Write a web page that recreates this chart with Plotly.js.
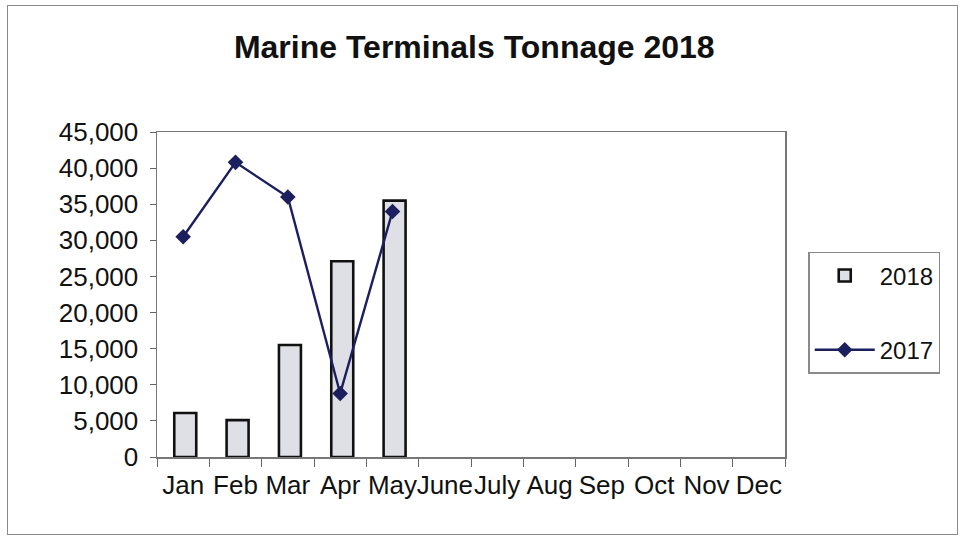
<!DOCTYPE html>
<html>
<head>
<meta charset="utf-8">
<script src="https://cdn.plot.ly/plotly-3.0.1.min.js"></script>
<style>
html,body{margin:0;padding:0;background:#fff;}
#wrap{position:relative;width:964px;height:539px;}
#chart{width:964px;height:539px;}
#frame{position:absolute;left:7px;top:5px;width:949px;height:528px;border:1.5px solid #8a8a8a;pointer-events:none;}
</style>
</head>
<body>
<div id="wrap"><div id="chart"></div><div id="frame"></div></div>
<script>
const months = ["Jan","Feb","Mar","Apr","May","June","July","Aug","Sep","Oct","Nov","Dec"];
const tonnage2018 = [6100, 5100, 15500, 27100, 35500, null, null, null, null, null, null, null];
const tonnage2017 = [30500, 40800, 36000, 8800, 34000, null, null, null, null, null, null, null];
const yTicks = [0,5000,10000,15000,20000,25000,30000,35000,40000,45000];

const traces = [
  {
    type: 'bar', name: '2018', x: months, y: tonnage2018,
    width: 0.42, offset: -0.17,
    marker: {color: '#dfe0e6', line: {color: '#111', width: 2.6}},
    legendgroup: 'a'
  },
  {
    type: 'scatter', mode: 'lines+markers', name: '2017', x: months, y: tonnage2017,
    line: {color: '#1b1f5e', width: 2.4},
    marker: {symbol: 'diamond', size: 12, color: '#1b1f5e'},
    legendgroup: 'b'
  }
];

const layout = {
  width: 964, height: 539,
  margin: {l: 157, r: 179, t: 132, b: 82},
  paper_bgcolor: '#fff', plot_bgcolor: '#fff',
  font: {family: 'Liberation Sans, Arial, sans-serif', size: 24, color: '#111'},
  title: {text: '<b>Marine Terminals Tonnage 2018</b>', x: 0.492, xanchor: 'center', y: 0.913, yanchor: 'middle',
          font: {family: 'Liberation Sans, Arial, sans-serif', size: 32, color: '#111'}},
  showlegend: true,
  legend: {x: 1.037, xanchor: 'left', y: 0.631, yanchor: 'top',
           bordercolor: '#8a8a8a', borderwidth: 1.5, bgcolor: '#fff',
           font: {size: 24}, traceorder: 'grouped', tracegroupgap: 40, itemwidth: 60},
  xaxis: {
    type: 'category', categoryorder: 'array', categoryarray: months,
    range: [-0.5, 11.5], tickangle: 0,
    tickson: 'boundaries', ticks: 'outside', ticklen: 8, tickcolor: '#666',
    showline: true, linecolor: '#777', linewidth: 1.5, mirror: true,
    showgrid: false, tickfont: {size: 26}, ticklabelstandoff: 4
  },
  yaxis: {
    range: [0, 45000], tickvals: yTicks, tickformat: ',',
    ticks: 'outside', ticklen: 6, tickcolor: '#666',
    showline: true, linecolor: '#777', linewidth: 1.5, mirror: true,
    showgrid: false, zeroline: false, tickfont: {size: 26}, ticklabelstandoff: 6
  },
  bargap: 0.5
};

Plotly.newPlot('chart', traces, layout, {displayModeBar: false, staticPlot: true});
</script>
</body>
</html>
